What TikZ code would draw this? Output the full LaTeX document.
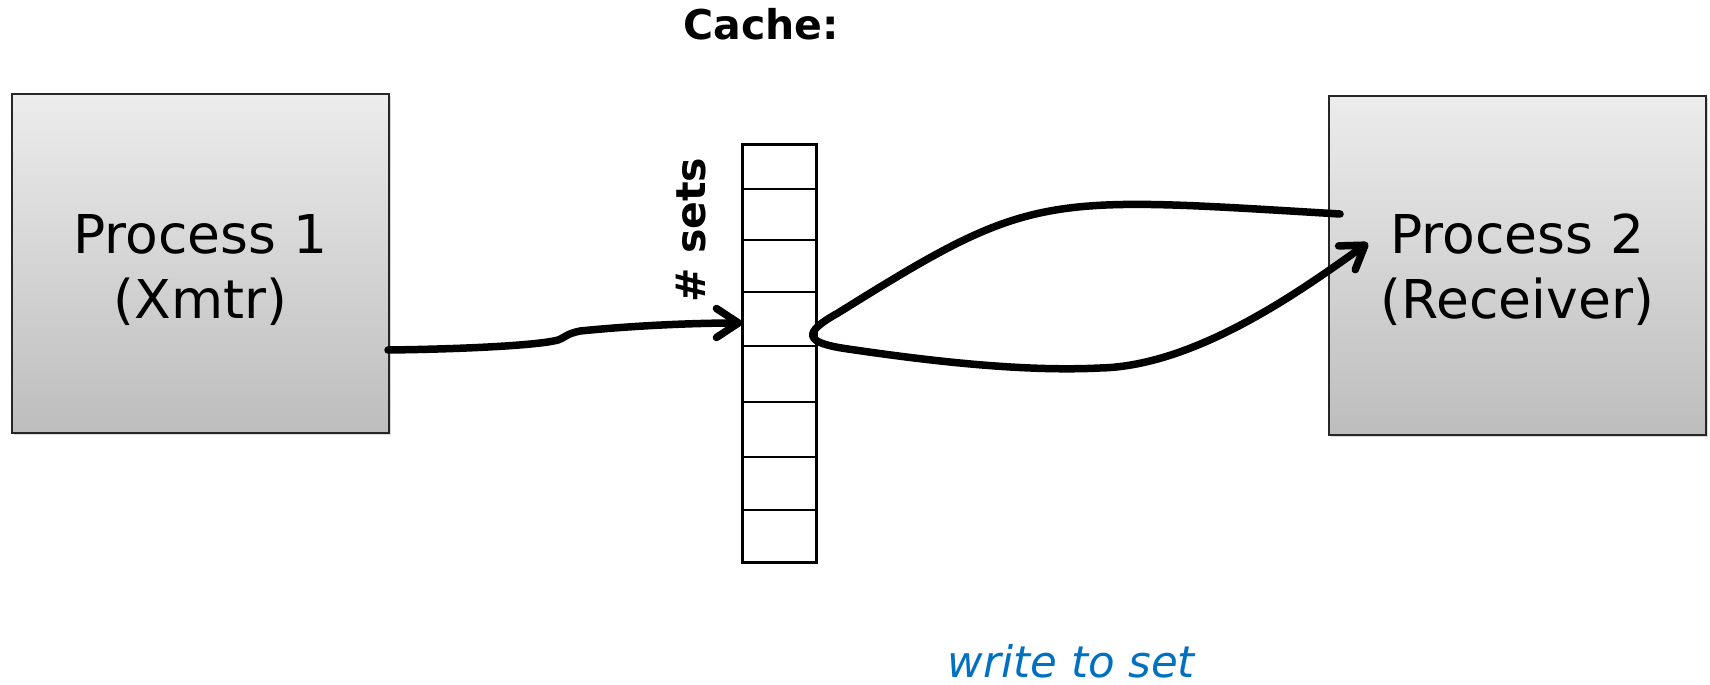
\documentclass[tikz,border=0pt]{standalone}
\usepackage{fontspec}
\setmainfont{DejaVu Sans}
\usetikzlibrary{arrows.meta,calc,shadows}
\definecolor{boxtop}{RGB}{236,236,236}
\definecolor{boxbot}{RGB}{189,189,189}
\definecolor{noteblue}{RGB}{0,112,192}
\begin{document}
\begin{tikzpicture}[x=1pt,y=-1pt,
  procbox/.style={draw=black!85, line width=2pt, top color=boxtop, bottom color=boxbot,
    minimum width=377pt, minimum height=339pt, inner sep=0pt,
    drop shadow={shadow xshift=2pt,shadow yshift=-2pt,opacity=.3}},
  proctext/.style={align=center, font=\fontsize{53.5}{65}\selectfont, inner sep=0pt},
  cellbox/.style={draw=black, line width=1.6pt, minimum width=73pt, inner sep=0pt},
  boldlabel/.style={font=\fontsize{41}{47}\selectfont\bfseries, inner sep=0pt},
  conn/.style={line width=7.5pt, line cap=round, line join=round},
  barb/.style={-{Straight Barb[length=22pt,width=29pt,line cap=round,line join=round]}}
]
\useasboundingbox (0,0) rectangle (1710,685);

% process boxes
\node[procbox] (p1) at (200.5,263.5) {};
\node[procbox] (p2) at (1517.5,265) {};
\node[proctext] (t1) at ($(p1.center)+(0,6.5)$) {Process 1\\(Xmtr)};
\node[proctext] (t2) at ($(p2.center)+(0,5)$) {Process 2\\(Receiver)};

% cache column
\node[cellbox, minimum height=44pt] (c1) at (779.5,167) {};
\node[cellbox, minimum height=51pt] (c2) at (779.5,214.5) {};
\node[cellbox, minimum height=52pt] (c3) at (779.5,266) {};
\node[cellbox, minimum height=54pt] (c4) at (779.5,319) {};
\node[cellbox, minimum height=56pt] (c5) at (779.5,374) {};
\node[cellbox, minimum height=55pt] (c6) at (779.5,429.5) {};
\node[cellbox, minimum height=53pt] (c7) at (779.5,483.5) {};
\node[cellbox, minimum height=52pt] (c8) at (779.5,536) {};
\draw[line width=2.6pt] (c1.north west) rectangle (c8.south east);

% labels
\node[boldlabel, anchor=base] (cache) at (761,40) {Cache:};
\node[boldlabel, anchor=base, rotate=90] (sets) at (705,230) {\# sets};
\node[anchor=base, inner sep=0pt, text=noteblue, font=\fontsize{43.5}{50}\selectfont\itshape] (note) at (1071.5,677) {write to set};

% connectors
\coordinate (s1) at ($(p1.east)+(-2,86.5)$);
\coordinate (e1) at ($(c4.west)+(0,4)$);
\coordinate (s2) at ($(p2.west)+(12,-51)$);
\coordinate (e2) at ($(p2.west)+(40,-22)$);

\draw[conn, barb] (s1) .. controls (470,349) and (540,345) .. (558,340)
  .. controls (566,337) and (566,334) .. (580,331)
  .. controls (640,325) and (700,323) .. (e1);

\draw[conn, barb] (s2) .. controls (1040,196) and (1033.5,191) .. (838,313)
  .. controls (800,334) and (806,343) .. (848,349)
  .. controls (923,360) and (1020,372) .. (1100,368)
  .. controls (1200,366) and (1311,283) .. (e2);
\end{tikzpicture}
\end{document}
